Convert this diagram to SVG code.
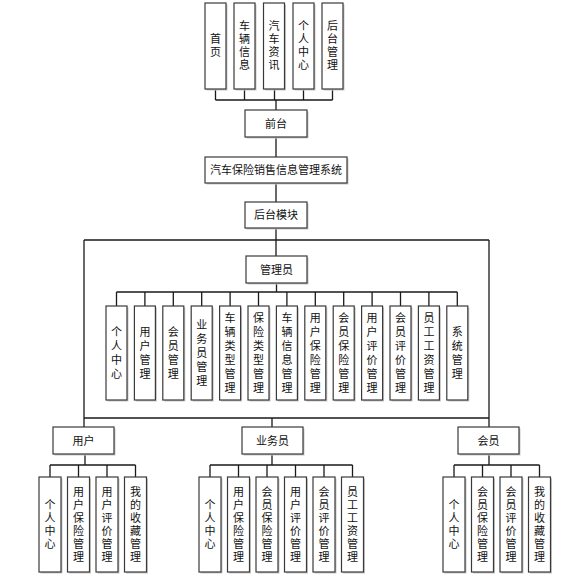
<svg xmlns="http://www.w3.org/2000/svg" width="571" height="580" viewBox="0 0 571 580">
<style>
.b{fill:#fff;stroke:#3a3a3a;stroke-width:1.2}
.s{fill:#c8c8c8;stroke:none}
.t{font-family:"Noto Sans CJK SC","Liberation Sans",sans-serif;font-size:11px;fill:#111;text-anchor:middle}
.e{fill:none;stroke:#1a1a1a;stroke-width:1.3}
</style>
<rect width="571" height="580" fill="#fff"/>
<g id="connectors">
<path class="e" d="M215.5,89V100M244.5,89V100M274.5,89V100M303.5,89V100M332.5,89V100M215.5,100H332.5M276,100V110M276,137V157M276,183V202M276,228V256M84,240H489M84,240V427M489,240V427M84,418H489M272,418V427"/>
<path class="e" d="M276.5,283V292M116.5,292H457.3M116.5,292V306M144.9,292V306M173.3,292V306M201.7,292V306M230.1,292V306M258.5,292V306M286.9,292V306M315.3,292V306M343.7,292V306M372.1,292V306M400.5,292V306M428.9,292V306M457.3,292V306"/>
<path class="e" d="M85,454V465M50,465H135.5M50,465V477M78.5,465V477M107,465V477M135.5,465V477"/>
<path class="e" d="M272,454V465M210,465H352.5M210,465V477M238.5,465V477M267,465V477M295.5,465V477M324,465V477M352.5,465V477"/>
<path class="e" d="M489,454V465M454,465H539.5M454,465V477M482.5,465V477M511,465V477M539.5,465V477"/>
</g>
<g id="top-home"><rect class="s" x="206.5" y="4.5" width="21" height="86"/><rect class="b" x="205" y="3" width="21" height="86"/><text class="t" y="43.4"><tspan x="215.5">首</tspan><tspan x="215.5" dy="13">页</tspan></text></g>
<g id="top-vehicle"><rect class="s" x="235.5" y="4.5" width="21" height="86"/><rect class="b" x="234" y="3" width="21" height="86"/><text class="t" y="30.4"><tspan x="244.5">车</tspan><tspan x="244.5" dy="13">辆</tspan><tspan x="244.5" dy="13">信</tspan><tspan x="244.5" dy="13">息</tspan></text></g>
<g id="top-news"><rect class="s" x="265" y="4.5" width="21" height="86"/><rect class="b" x="263.5" y="3" width="21" height="86"/><text class="t" y="30.4"><tspan x="274">汽</tspan><tspan x="274" dy="13">车</tspan><tspan x="274" dy="13">资</tspan><tspan x="274" dy="13">讯</tspan></text></g>
<g id="top-personal"><rect class="s" x="294.5" y="4.5" width="21" height="86"/><rect class="b" x="293" y="3" width="21" height="86"/><text class="t" y="30.4"><tspan x="303.5">个</tspan><tspan x="303.5" dy="13">人</tspan><tspan x="303.5" dy="13">中</tspan><tspan x="303.5" dy="13">心</tspan></text></g>
<g id="top-backend"><rect class="s" x="323.5" y="4.5" width="21" height="86"/><rect class="b" x="322" y="3" width="21" height="86"/><text class="t" y="30.4"><tspan x="332.5">后</tspan><tspan x="332.5" dy="13">台</tspan><tspan x="332.5" dy="13">管</tspan><tspan x="332.5" dy="13">理</tspan></text></g>
<g id="frontend"><rect class="s" x="246.5" y="111.5" width="62" height="27"/><rect class="b" x="245" y="110" width="62" height="27"/><text class="t" x="276" y="127.5">前台</text></g>
<g id="system"><rect class="s" x="206.5" y="158.5" width="142" height="26"/><rect class="b" x="205" y="157" width="142" height="26"/><text class="t" x="276" y="174">汽车保险销售信息管理系统</text></g>
<g id="backend"><rect class="s" x="246.5" y="203.5" width="62" height="26"/><rect class="b" x="245" y="202" width="62" height="26"/><text class="t" x="276" y="219">后台模块</text></g>
<g id="admin"><rect class="s" x="247.5" y="257.5" width="61" height="27"/><rect class="b" x="246" y="256" width="61" height="27"/><text class="t" x="276.5" y="273.5">管理员</text></g>
<g id="a1"><rect class="s" x="107.5" y="307.5" width="21" height="94"/><rect class="b" x="106" y="306" width="21" height="94"/><text class="t" y="335.9"><tspan x="116.5">个</tspan><tspan x="116.5" dy="14">人</tspan><tspan x="116.5" dy="14">中</tspan><tspan x="116.5" dy="14">心</tspan></text></g>
<g id="a2"><rect class="s" x="135.9" y="307.5" width="21" height="94"/><rect class="b" x="134.4" y="306" width="21" height="94"/><text class="t" y="335.9"><tspan x="144.9">用</tspan><tspan x="144.9" dy="14">户</tspan><tspan x="144.9" dy="14">管</tspan><tspan x="144.9" dy="14">理</tspan></text></g>
<g id="a3"><rect class="s" x="164.3" y="307.5" width="21" height="94"/><rect class="b" x="162.8" y="306" width="21" height="94"/><text class="t" y="335.9"><tspan x="173.3">会</tspan><tspan x="173.3" dy="14">员</tspan><tspan x="173.3" dy="14">管</tspan><tspan x="173.3" dy="14">理</tspan></text></g>
<g id="a4"><rect class="s" x="192.7" y="307.5" width="21" height="94"/><rect class="b" x="191.2" y="306" width="21" height="94"/><text class="t" y="328.9"><tspan x="201.7">业</tspan><tspan x="201.7" dy="14">务</tspan><tspan x="201.7" dy="14">员</tspan><tspan x="201.7" dy="14">管</tspan><tspan x="201.7" dy="14">理</tspan></text></g>
<g id="a5"><rect class="s" x="221.1" y="307.5" width="21" height="94"/><rect class="b" x="219.6" y="306" width="21" height="94"/><text class="t" y="321.9"><tspan x="230.1">车</tspan><tspan x="230.1" dy="14">辆</tspan><tspan x="230.1" dy="14">类</tspan><tspan x="230.1" dy="14">型</tspan><tspan x="230.1" dy="14">管</tspan><tspan x="230.1" dy="14">理</tspan></text></g>
<g id="a6"><rect class="s" x="249.5" y="307.5" width="21" height="94"/><rect class="b" x="248" y="306" width="21" height="94"/><text class="t" y="321.9"><tspan x="258.5">保</tspan><tspan x="258.5" dy="14">险</tspan><tspan x="258.5" dy="14">类</tspan><tspan x="258.5" dy="14">型</tspan><tspan x="258.5" dy="14">管</tspan><tspan x="258.5" dy="14">理</tspan></text></g>
<g id="a7"><rect class="s" x="277.9" y="307.5" width="21" height="94"/><rect class="b" x="276.4" y="306" width="21" height="94"/><text class="t" y="321.9"><tspan x="286.9">车</tspan><tspan x="286.9" dy="14">辆</tspan><tspan x="286.9" dy="14">信</tspan><tspan x="286.9" dy="14">息</tspan><tspan x="286.9" dy="14">管</tspan><tspan x="286.9" dy="14">理</tspan></text></g>
<g id="a8"><rect class="s" x="306.3" y="307.5" width="21" height="94"/><rect class="b" x="304.8" y="306" width="21" height="94"/><text class="t" y="321.9"><tspan x="315.3">用</tspan><tspan x="315.3" dy="14">户</tspan><tspan x="315.3" dy="14">保</tspan><tspan x="315.3" dy="14">险</tspan><tspan x="315.3" dy="14">管</tspan><tspan x="315.3" dy="14">理</tspan></text></g>
<g id="a9"><rect class="s" x="334.7" y="307.5" width="21" height="94"/><rect class="b" x="333.2" y="306" width="21" height="94"/><text class="t" y="321.9"><tspan x="343.7">会</tspan><tspan x="343.7" dy="14">员</tspan><tspan x="343.7" dy="14">保</tspan><tspan x="343.7" dy="14">险</tspan><tspan x="343.7" dy="14">管</tspan><tspan x="343.7" dy="14">理</tspan></text></g>
<g id="a10"><rect class="s" x="363.1" y="307.5" width="21" height="94"/><rect class="b" x="361.6" y="306" width="21" height="94"/><text class="t" y="321.9"><tspan x="372.1">用</tspan><tspan x="372.1" dy="14">户</tspan><tspan x="372.1" dy="14">评</tspan><tspan x="372.1" dy="14">价</tspan><tspan x="372.1" dy="14">管</tspan><tspan x="372.1" dy="14">理</tspan></text></g>
<g id="a11"><rect class="s" x="391.5" y="307.5" width="21" height="94"/><rect class="b" x="390" y="306" width="21" height="94"/><text class="t" y="321.9"><tspan x="400.5">会</tspan><tspan x="400.5" dy="14">员</tspan><tspan x="400.5" dy="14">评</tspan><tspan x="400.5" dy="14">价</tspan><tspan x="400.5" dy="14">管</tspan><tspan x="400.5" dy="14">理</tspan></text></g>
<g id="a12"><rect class="s" x="419.9" y="307.5" width="21" height="94"/><rect class="b" x="418.4" y="306" width="21" height="94"/><text class="t" y="321.9"><tspan x="428.9">员</tspan><tspan x="428.9" dy="14">工</tspan><tspan x="428.9" dy="14">工</tspan><tspan x="428.9" dy="14">资</tspan><tspan x="428.9" dy="14">管</tspan><tspan x="428.9" dy="14">理</tspan></text></g>
<g id="a13"><rect class="s" x="448.3" y="307.5" width="21" height="94"/><rect class="b" x="446.8" y="306" width="21" height="94"/><text class="t" y="335.9"><tspan x="457.3">系</tspan><tspan x="457.3" dy="14">统</tspan><tspan x="457.3" dy="14">管</tspan><tspan x="457.3" dy="14">理</tspan></text></g>
<g id="user"><rect class="s" x="54.5" y="428.5" width="61" height="27"/><rect class="b" x="53" y="427" width="61" height="27"/><text class="t" x="83.5" y="444.5">用户</text></g>
<g id="staff"><rect class="s" x="243.5" y="428.5" width="61" height="27"/><rect class="b" x="242" y="427" width="61" height="27"/><text class="t" x="272.5" y="444.5">业务员</text></g>
<g id="member"><rect class="s" x="459.5" y="428.5" width="61" height="27"/><rect class="b" x="458" y="427" width="61" height="27"/><text class="t" x="488.5" y="444.5">会员</text></g>
<g id="u1"><rect class="s" x="40.5" y="478.5" width="22" height="95"/><rect class="b" x="39" y="477" width="22" height="95"/><text class="t" y="508.9"><tspan x="50">个</tspan><tspan x="50" dy="13">人</tspan><tspan x="50" dy="13">中</tspan><tspan x="50" dy="13">心</tspan></text></g>
<g id="u2"><rect class="s" x="69" y="478.5" width="22" height="95"/><rect class="b" x="67.5" y="477" width="22" height="95"/><text class="t" y="495.9"><tspan x="78.5">用</tspan><tspan x="78.5" dy="13">户</tspan><tspan x="78.5" dy="13">保</tspan><tspan x="78.5" dy="13">险</tspan><tspan x="78.5" dy="13">管</tspan><tspan x="78.5" dy="13">理</tspan></text></g>
<g id="u3"><rect class="s" x="97.5" y="478.5" width="22" height="95"/><rect class="b" x="96" y="477" width="22" height="95"/><text class="t" y="495.9"><tspan x="107">用</tspan><tspan x="107" dy="13">户</tspan><tspan x="107" dy="13">评</tspan><tspan x="107" dy="13">价</tspan><tspan x="107" dy="13">管</tspan><tspan x="107" dy="13">理</tspan></text></g>
<g id="u4"><rect class="s" x="126" y="478.5" width="22" height="95"/><rect class="b" x="124.5" y="477" width="22" height="95"/><text class="t" y="495.9"><tspan x="135.5">我</tspan><tspan x="135.5" dy="13">的</tspan><tspan x="135.5" dy="13">收</tspan><tspan x="135.5" dy="13">藏</tspan><tspan x="135.5" dy="13">管</tspan><tspan x="135.5" dy="13">理</tspan></text></g>
<g id="s1"><rect class="s" x="200.5" y="478.5" width="22" height="95"/><rect class="b" x="199" y="477" width="22" height="95"/><text class="t" y="508.9"><tspan x="210">个</tspan><tspan x="210" dy="13">人</tspan><tspan x="210" dy="13">中</tspan><tspan x="210" dy="13">心</tspan></text></g>
<g id="s2"><rect class="s" x="229" y="478.5" width="22" height="95"/><rect class="b" x="227.5" y="477" width="22" height="95"/><text class="t" y="495.9"><tspan x="238.5">用</tspan><tspan x="238.5" dy="13">户</tspan><tspan x="238.5" dy="13">保</tspan><tspan x="238.5" dy="13">险</tspan><tspan x="238.5" dy="13">管</tspan><tspan x="238.5" dy="13">理</tspan></text></g>
<g id="s3"><rect class="s" x="257.5" y="478.5" width="22" height="95"/><rect class="b" x="256" y="477" width="22" height="95"/><text class="t" y="495.9"><tspan x="267">会</tspan><tspan x="267" dy="13">员</tspan><tspan x="267" dy="13">保</tspan><tspan x="267" dy="13">险</tspan><tspan x="267" dy="13">管</tspan><tspan x="267" dy="13">理</tspan></text></g>
<g id="s4"><rect class="s" x="286" y="478.5" width="22" height="95"/><rect class="b" x="284.5" y="477" width="22" height="95"/><text class="t" y="495.9"><tspan x="295.5">用</tspan><tspan x="295.5" dy="13">户</tspan><tspan x="295.5" dy="13">评</tspan><tspan x="295.5" dy="13">价</tspan><tspan x="295.5" dy="13">管</tspan><tspan x="295.5" dy="13">理</tspan></text></g>
<g id="s5"><rect class="s" x="314.5" y="478.5" width="22" height="95"/><rect class="b" x="313" y="477" width="22" height="95"/><text class="t" y="495.9"><tspan x="324">会</tspan><tspan x="324" dy="13">员</tspan><tspan x="324" dy="13">评</tspan><tspan x="324" dy="13">价</tspan><tspan x="324" dy="13">管</tspan><tspan x="324" dy="13">理</tspan></text></g>
<g id="s6"><rect class="s" x="343" y="478.5" width="22" height="95"/><rect class="b" x="341.5" y="477" width="22" height="95"/><text class="t" y="495.9"><tspan x="352.5">员</tspan><tspan x="352.5" dy="13">工</tspan><tspan x="352.5" dy="13">工</tspan><tspan x="352.5" dy="13">资</tspan><tspan x="352.5" dy="13">管</tspan><tspan x="352.5" dy="13">理</tspan></text></g>
<g id="m1"><rect class="s" x="444.5" y="478.5" width="22" height="95"/><rect class="b" x="443" y="477" width="22" height="95"/><text class="t" y="508.9"><tspan x="454">个</tspan><tspan x="454" dy="13">人</tspan><tspan x="454" dy="13">中</tspan><tspan x="454" dy="13">心</tspan></text></g>
<g id="m2"><rect class="s" x="473" y="478.5" width="22" height="95"/><rect class="b" x="471.5" y="477" width="22" height="95"/><text class="t" y="495.9"><tspan x="482.5">会</tspan><tspan x="482.5" dy="13">员</tspan><tspan x="482.5" dy="13">保</tspan><tspan x="482.5" dy="13">险</tspan><tspan x="482.5" dy="13">管</tspan><tspan x="482.5" dy="13">理</tspan></text></g>
<g id="m3"><rect class="s" x="501.5" y="478.5" width="22" height="95"/><rect class="b" x="500" y="477" width="22" height="95"/><text class="t" y="495.9"><tspan x="511">会</tspan><tspan x="511" dy="13">员</tspan><tspan x="511" dy="13">评</tspan><tspan x="511" dy="13">价</tspan><tspan x="511" dy="13">管</tspan><tspan x="511" dy="13">理</tspan></text></g>
<g id="m4"><rect class="s" x="530" y="478.5" width="22" height="95"/><rect class="b" x="528.5" y="477" width="22" height="95"/><text class="t" y="495.9"><tspan x="539.5">我</tspan><tspan x="539.5" dy="13">的</tspan><tspan x="539.5" dy="13">收</tspan><tspan x="539.5" dy="13">藏</tspan><tspan x="539.5" dy="13">管</tspan><tspan x="539.5" dy="13">理</tspan></text></g>
</svg>
